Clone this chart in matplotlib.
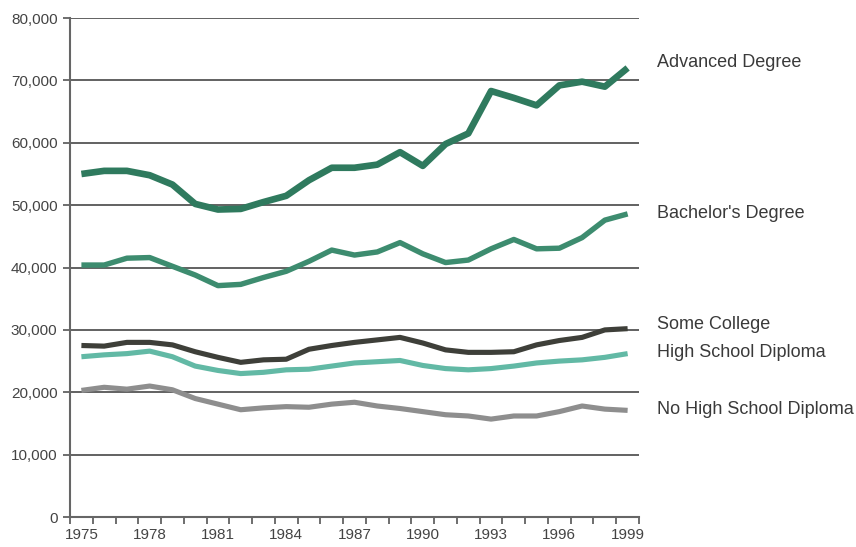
import matplotlib.pyplot as plt
import matplotlib.transforms as mtransforms

plt.rcParams['font.family'] = ['Liberation Sans', 'DejaVu Sans']

years = list(range(1975, 2000))

advanced = [55000, 55500, 55500, 54800, 53300, 50200, 49300, 49400, 50500, 51500,
            54000, 56000, 56000, 56500, 58500, 56300, 59800, 61500, 68300, 67200,
            66000, 69200, 69800, 69000, 72000]
bachelor = [40400, 40400, 41500, 41600, 40200, 38800, 37100, 37300, 38400, 39400,
            41000, 42800, 42000, 42500, 44000, 42200, 40800, 41200, 43000, 44500,
            43000, 43100, 44800, 47600, 48600]
some_college = [27500, 27400, 28000, 28000, 27600, 26500, 25600, 24800, 25200, 25300,
                26900, 27500, 28000, 28400, 28800, 27900, 26800, 26400, 26400, 26500,
                27600, 28300, 28800, 30000, 30200]
high_school = [25700, 26000, 26200, 26600, 25700, 24200, 23500, 23000, 23200, 23600,
               23700, 24200, 24700, 24900, 25100, 24300, 23800, 23600, 23800, 24200,
               24700, 25000, 25200, 25600, 26200]
no_high_school = [20300, 20800, 20500, 21000, 20400, 19000, 18100, 17200, 17500, 17700,
                  17600, 18100, 18400, 17800, 17400, 16900, 16400, 16200, 15700, 16200,
                  16200, 16900, 17800, 17300, 17100]

# name, values, colour, line width, label nudge
series = [
    ("Advanced Degree", advanced, "#2f7a5e", 4.8, 900),
    ("Bachelor's Degree", bachelor, "#3d8c6f", 3.9, 0),
    ("Some College", some_college, "#3e3f39", 3.7, 600),
    ("High School Diploma", high_school, "#62b9a5", 3.7, 250),
    ("No High School Diploma", no_high_school, "#8e8e8e", 3.7, 200),
]

fig = plt.figure(figsize=(8.56, 5.47), dpi=100)
ax = fig.add_axes([0.0818, 0.0548, 0.6647, 0.9122])

for label, values, color, lw, nudge in series:
    ax.plot(years, values, color=color, linewidth=lw, solid_joinstyle='round',
            solid_capstyle='butt', zorder=3)

ax.set_xlim(1974.5, 1999.5)
ax.set_ylim(0, 80000)

# year ticks sit between categories, labels at the centres
ax.set_xticks([y - 0.5 for y in years] + [1999.5])
ax.set_xticklabels([])
ax.set_xticks([1975, 1978, 1981, 1984, 1987, 1990, 1993, 1996, 1999], minor=True)
ax.set_xticklabels(['1975', '1978', '1981', '1984', '1987', '1990', '1993', '1996', '1999'],
                   minor=True)
ax.tick_params(axis='x', which='major', direction='out', length=5, width=1.2, color='#555555')
ax.tick_params(axis='x', which='minor', length=0, labelsize=11, labelcolor='#444444', pad=8)

yt = list(range(0, 80001, 10000))
ax.set_yticks(yt)
ax.set_yticklabels(['0' if v == 0 else f"{v:,}" for v in yt])
ax.tick_params(axis='y', direction='out', length=5, width=1.2, color='#555555',
               labelsize=11, labelcolor='#444444', pad=4)

for v in yt[1:]:
    ax.axhline(v, color='#555555', linewidth=1.3, zorder=1)

for side in ['top', 'right']:
    ax.spines[side].set_visible(False)
ax.spines['left'].set_color('#666666')
ax.spines['left'].set_linewidth(1.5)
ax.spines['bottom'].set_color('#666666')
ax.spines['bottom'].set_linewidth(1.5)

trans = mtransforms.blended_transform_factory(ax.transAxes, ax.transData)
for label, values, color, lw, nudge in series:
    ax.text(1.031, values[-1] + nudge, label, transform=trans, fontsize=13,
            color='#3a3a3a', va='center', ha='left', clip_on=False)

fig.savefig('out.png', dpi=100, facecolor='white')
